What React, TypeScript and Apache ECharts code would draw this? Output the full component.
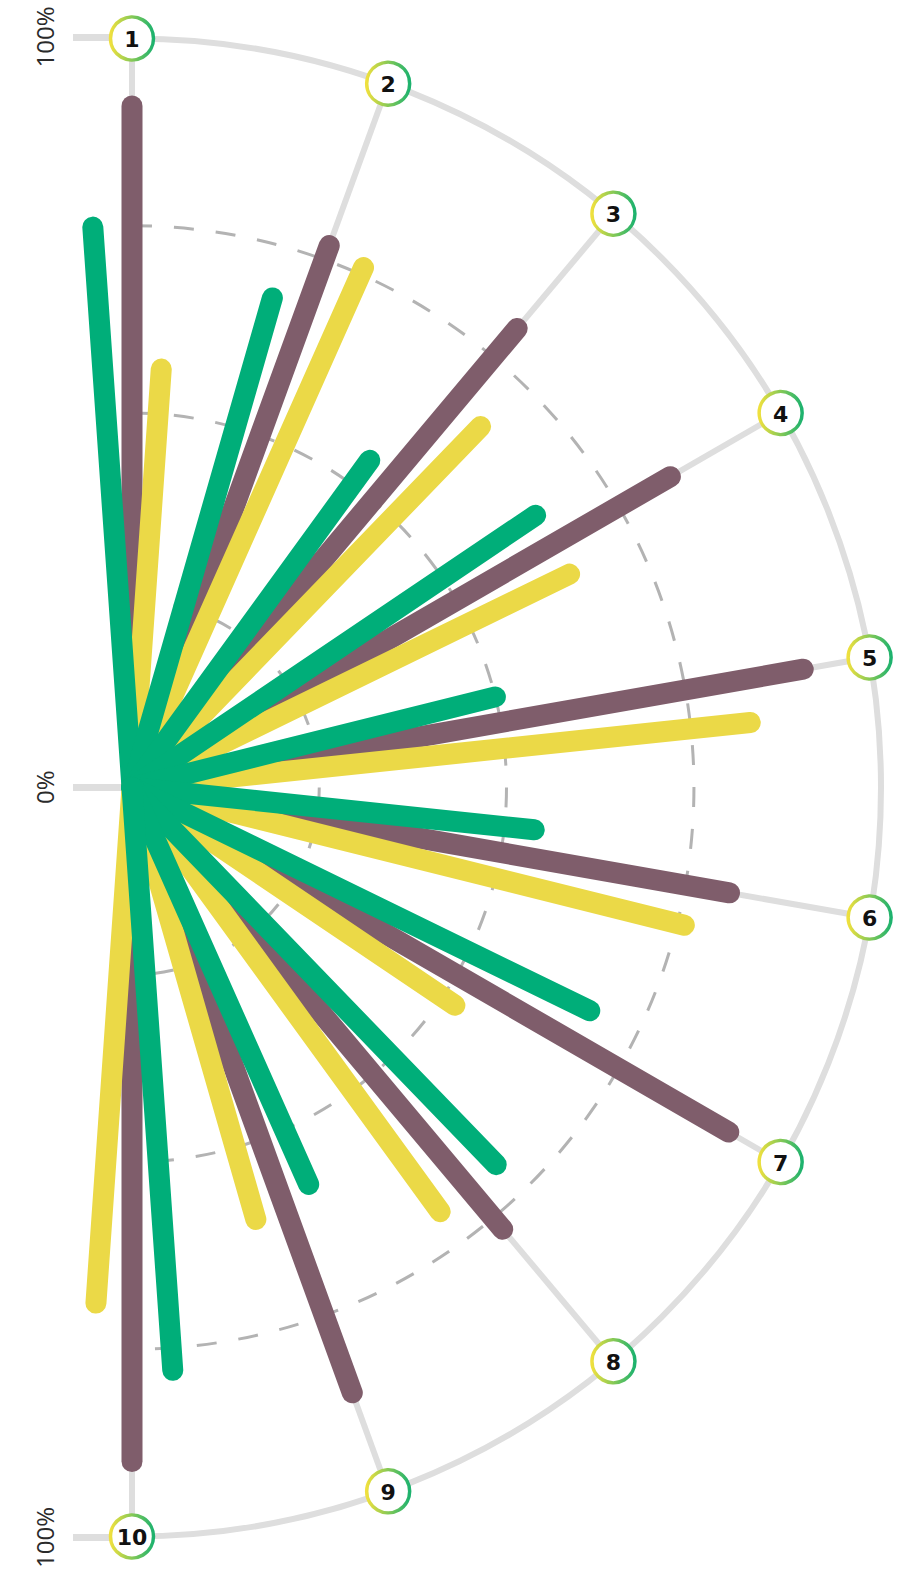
import React, { useEffect, useRef } from 'react';
import * as echarts from 'echarts';

// ---- data ----
const categories = ['1', '2', '3', '4', '5', '6', '7', '8', '9', '10'];
const maroonValues = [91, 77, 80, 83, 91, 81, 92, 77, 86, 90];
const yellowValues = [56, 76, 67, 65, 83, 76, 52, 70, 60, 69];
const greenValues = [75, 68, 54, 65, 50, 54, 68, 70, 58, 78];
const ringValues = [25, 50, 75];
const outerRing = [100];
const radiusTickLabels = ['100%', '0%', '100%'];

// angle layout (angle axis value units, 0..360, start at 120deg clockwise)
const ANGLE_START = 30;
const ANGLE_STEP = 20;
const OFFSET = 4;

const COLORS = {
  maroon: '#7f5d6b',
  yellow: '#ebd947',
  green: '#00ae79',
  grid: '#dedede',
  dash: '#b3b3b3',
};

const angleOf = (i: number) => ANGLE_START + ANGLE_STEP * i;

function barSeries(name: string, values: number[], color: string, offset: number, z: number) {
  return {
    type: 'custom',
    name,
    coordinateSystem: 'polar',
    z,
    data: values.map((v, i) => [v, angleOf(i) + offset]),
    renderItem: (_params: any, api: any) => {
      const r = api.value(0);
      const a = api.value(1);
      const p0 = api.coord([0, a]);
      const p1 = api.coord([r, a]);
      return {
        type: 'line',
        shape: { x1: p0[0], y1: p0[1], x2: p1[0], y2: p1[1] },
        style: { stroke: color, lineWidth: 21, lineCap: 'round' },
      };
    },
  };
}

function ringSeries(values: number[], color: string, width: number, dash: number[] | null, z: number) {
  return {
    type: 'custom',
    coordinateSystem: 'polar',
    z,
    silent: true,
    data: values.map((v) => [v, angleOf(0)]),
    renderItem: (_params: any, api: any) => {
      const v = api.value(0);
      const c = api.coord([0, angleOf(0)]);
      const top = api.coord([v, angleOf(0)]);
      const r = c[1] - top[1];
      return {
        type: 'arc',
        shape: { cx: c[0], cy: c[1], r, startAngle: -Math.PI / 2, endAngle: Math.PI / 2, clockwise: true },
        style: { stroke: color, lineWidth: width, fill: null, lineDash: dash || undefined },
      };
    },
  };
}

const option: any = {
  animation: false,
  backgroundColor: '#ffffff',
  polar: { center: [132, 787.5], radius: 749 },
  angleAxis: { type: 'value', min: 0, max: 360, startAngle: 120, clockwise: true, show: false },
  radiusAxis: { type: 'value', min: 0, max: 100, show: false },
  grid: { left: 132, top: 37, height: 1501, width: 10 },
  xAxis: { type: 'value', show: false },
  yAxis: {
    type: 'category',
    data: radiusTickLabels,
    boundaryGap: false,
    position: 'left',
    axisLine: { show: false },
    axisTick: { show: true, length: 59, lineStyle: { color: COLORS.grid, width: 7 } },
    splitLine: { show: false },
    axisLabel: {
      rotate: 90,
      margin: 76,
      fontSize: 24,
      fontFamily: '"Open Sans", sans-serif',
      color: '#2a2a2a',
    },
  },
  series: [
    ringSeries(ringValues, COLORS.dash, 3, [20, 22], 1),
    ringSeries(outerRing, COLORS.grid, 6, null, 1),
    {
      type: 'custom',
      coordinateSystem: 'polar',
      z: 1,
      silent: true,
      data: categories.map((_c, i) => [100, angleOf(i)]),
      renderItem: (_params: any, api: any) => {
        const a = api.value(1);
        const p0 = api.coord([0, a]);
        const p1 = api.coord([api.value(0), a]);
        return {
          type: 'line',
          shape: { x1: p0[0], y1: p0[1], x2: p1[0], y2: p1[1] },
          style: { stroke: COLORS.grid, lineWidth: 6 },
        };
      },
    },
    barSeries('A', maroonValues, COLORS.maroon, 0, 2),
    barSeries('B', yellowValues, COLORS.yellow, OFFSET, 2),
    barSeries('C', greenValues, COLORS.green, -OFFSET, 2),
    {
      type: 'custom',
      coordinateSystem: 'polar',
      z: 5,
      silent: true,
      data: categories.map((_c, i) => [100, angleOf(i)]),
      renderItem: (params: any, api: any) => {
        const p = api.coord([api.value(0), api.value(1)]);
        const label = categories[params.dataIndex];
        return {
          type: 'group',
          children: [
            {
              type: 'circle',
              shape: { cx: p[0], cy: p[1], r: 21.5 },
              style: {
                fill: '#ffffff',
                lineWidth: 3.5,
                stroke: new echarts.graphic.LinearGradient(0, 0, 1, 0, [
                  { offset: 0, color: '#efe03e' },
                  { offset: 1, color: '#1db26e' },
                ]),
              },
            },
            {
              type: 'text',
              x: p[0],
              y: p[1] + 1,
              style: {
                text: label,
                fill: '#111111',
                fontSize: 22,
                fontWeight: 'bold',
                fontFamily: '"DejaVu Sans", sans-serif',
                align: 'center',
                verticalAlign: 'middle',
              },
            },
          ],
        };
      },
    },
  ],
};

export default function App() {
  const ref = useRef<HTMLDivElement>(null);
  useEffect(() => {
    const chart = echarts.init(ref.current as HTMLDivElement, null, { renderer: 'svg' });
    chart.setOption(option);
    return () => chart.dispose();
  }, []);
  return (
    <div
      ref={ref}
      style={{ position: 'absolute', left: 0, top: 0, width: 911, height: 1571 }}
    />
  );
}
